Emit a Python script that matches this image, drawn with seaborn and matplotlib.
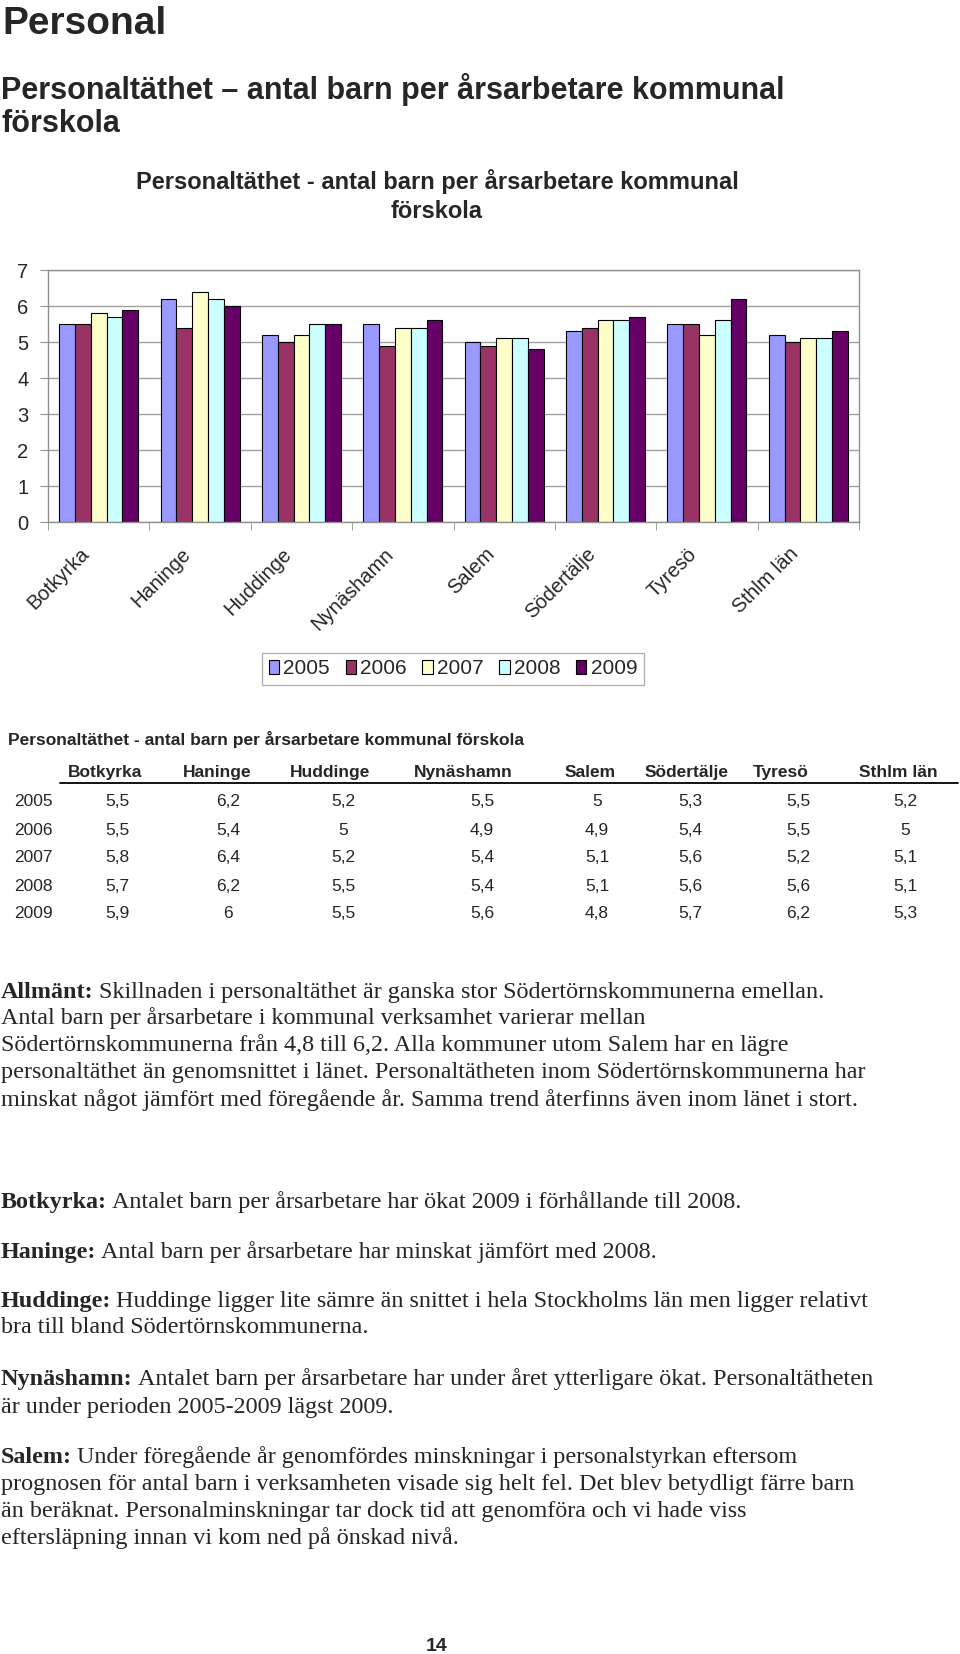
import matplotlib
matplotlib.use('Agg')
import matplotlib.pyplot as plt
from matplotlib.patches import Patch
from matplotlib.transforms import ScaledTranslation
import numpy as np
import pandas as pd
import seaborn as sns

# data
kommuner = ['Botkyrka', 'Haninge', 'Huddinge', 'Nynäshamn', 'Salem',
            'Södertälje', 'Tyresö', 'Sthlm län']
ar = ['2005', '2006', '2007', '2008', '2009']
v2005 = [5.5, 6.2, 5.2, 5.5, 5.0, 5.3, 5.5, 5.2]
v2006 = [5.5, 5.4, 5.0, 4.9, 4.9, 5.4, 5.5, 5.0]
v2007 = [5.8, 6.4, 5.2, 5.4, 5.1, 5.6, 5.2, 5.1]
v2008 = [5.7, 6.2, 5.5, 5.4, 5.1, 5.6, 5.6, 5.1]
v2009 = [5.9, 6.0, 5.5, 5.6, 4.8, 5.7, 6.2, 5.3]
farger = ['#9999FF', '#993366', '#FFFFCC', '#CCFFFF', '#660066']

rubrik = 'Personal'
underrubrik = ['Personaltäthet – antal barn per årsarbetare kommunal', 'förskola']
diagramtitel = ['Personaltäthet - antal barn per årsarbetare kommunal', 'förskola']
tabelltitel = 'Personaltäthet - antal barn per årsarbetare kommunal förskola'

# body text: (bold start, rest of first line), then following lines
stycken = [
    ('Allmänt:', 'Skillnaden i personaltäthet är ganska stor Södertörnskommunerna emellan.',
     ['Antal barn per årsarbetare i kommunal verksamhet varierar mellan',
      'Södertörnskommunerna från 4,8 till 6,2. Alla kommuner utom Salem har en lägre',
      'personaltäthet än genomsnittet i länet. Personaltätheten inom Södertörnskommunerna har',
      'minskat något jämfört med föregående år. Samma trend återfinns även inom länet i stort.']),
    ('Botkyrka:', 'Antalet barn per årsarbetare har ökat 2009 i förhållande till 2008.', []),
    ('Haninge:', 'Antal barn per årsarbetare har minskat jämfört med 2008.', []),
    ('Huddinge:', 'Huddinge ligger lite sämre än snittet i hela Stockholms län men ligger relativt',
     ['bra till bland Södertörnskommunerna.']),
    ('Nynäshamn:', 'Antalet barn per årsarbetare har under året ytterligare ökat. Personaltätheten',
     ['är under perioden 2005-2009 lägst 2009.']),
    ('Salem:', 'Under föregående år genomfördes minskningar i personalstyrkan eftersom',
     ['prognosen för antal barn i verksamheten visade sig helt fel. Det blev betydligt färre barn',
      'än beräknat. Personalminskningar tar dock tid att genomföra och vi hade viss',
      'eftersläpning innan vi kom ned på önskad nivå.']),
]
sidnummer = '14'

varden = [v2005, v2006, v2007, v2008, v2009]
df = pd.DataFrame({
    'kommun': kommuner * len(ar),
    'ar': np.repeat(ar, len(kommuner)),
    'varde': np.concatenate(varden),
})

sns.set_style('white')
plt.rcParams['font.family'] = ['Liberation Sans', 'DejaVu Sans']

W, H = 960, 1654
fig = plt.figure(figsize=(W / 100, H / 100), dpi=100)
fy = lambda y: 1 - y / H
fx = lambda x: x / W

# headings
fig.text(fx(2), fy(34), rubrik, fontsize=28, weight='bold', va='baseline')
fig.text(fx(1), fy(89), underrubrik[0], fontsize=22, weight='bold', va='center')
fig.text(fx(1), fy(124), underrubrik[1], fontsize=22, weight='bold', va='center')
fig.text(fx(437), fy(182), diagramtitel[0], fontsize=17, weight='bold', va='center', ha='center')
fig.text(fx(437), fy(212), diagramtitel[1], fontsize=17, weight='bold', va='center', ha='center')

# chart
ax = fig.add_axes([fx(48), fy(522), (859 - 48) / W, (522 - 270) / H])
sns.barplot(data=df, x='kommun', y='varde', hue='ar', palette=farger,
            width=0.78, saturation=1, edgecolor='black', linewidth=0.8,
            legend=False, ax=ax)
ax.set_xlim(-0.5, len(kommuner) - 0.5)
ax.set_ylim(0, 7)
ax.set_yticks(range(0, 8))
ax.set_xlabel('')
ax.set_ylabel('')
ax.yaxis.grid(True, color='#A0A0A0', lw=1)
ax.set_axisbelow(True)
for s in ax.spines.values():
    s.set_color('#909090')
    s.set_linewidth(1)
ax.set_xticks(np.arange(-0.5, len(kommuner), 1), minor=True)
ax.tick_params(axis='x', which='major', length=0, pad=21, labelsize=14.5)
ax.tick_params(axis='x', which='minor', length=6, color='#909090', bottom=True)
ax.tick_params(axis='y', length=6, color='#909090', pad=8, labelsize=14.5, left=True)
off = ScaledTranslation(-0.127, 0, fig.dpi_scale_trans)
for lab in ax.get_xticklabels():
    lab.set_rotation(45)
    lab.set_ha('right')
    lab.set_va('center')
    lab.set_rotation_mode('anchor')
    lab.set_transform(lab.get_transform() + off)

handles = [Patch(facecolor=c, edgecolor='black', lw=0.8) for c in farger]
leg = fig.legend(handles, ar, loc='center', bbox_to_anchor=(fx(453), fy(669)),
                 ncol=5, fontsize=15, frameon=True, fancybox=False,
                 edgecolor='#A0A0A0', handlelength=0.5, handleheight=0.65,
                 handletextpad=0.2, columnspacing=0.75, borderpad=0.3)
leg.get_frame().set_linewidth(1)

# table
fig.text(fx(8), fy(739), tabelltitel, fontsize=12.5, weight='bold', va='center')
kol_rubrik = [105, 217, 330, 463, 590, 687, 781, 898]
kol_varde = [117, 228, 343, 482, 597, 690, 798, 905]
rader = [802, 830, 858, 886, 914]
for k, xk in zip(kommuner, kol_rubrik):
    fig.text(fx(xk), fy(772), k, fontsize=12.5, weight='bold', ha='center', va='center')
fig.add_artist(plt.Line2D([fx(60), fx(958)], [fy(783), fy(783)], color='black', lw=1.3))
for a, v, yr in zip(ar, varden, rader):
    fig.text(fx(33), fy(yr), a, fontsize=12.5, ha='center', va='center')
    for val, xk in zip(v, kol_varde):
        fig.text(fx(xk), fy(yr), f'{val:g}'.replace('.', ','), fontsize=12.5,
                 ha='center', va='center')

# body text
baslinjer = [[998, 1024, 1051, 1078, 1106], [1208], [1258], [1307, 1333],
             [1385, 1413], [1463, 1490, 1517, 1544]]
serif = ['Liberation Serif', 'DejaVu Serif']
fs = 17.4
mellanrum = 5
renderer = fig.canvas.get_renderer()
for (fet, rest, foljande), ys in zip(stycken, baslinjer):
    t = fig.text(fx(1), fy(ys[0]), fet, family=serif, weight='bold', fontsize=fs, va='baseline')
    bb = t.get_window_extent(renderer)
    fig.text((bb.x1 + mellanrum) / W, fy(ys[0]), rest, family=serif, fontsize=fs, va='baseline')
    for rad, y in zip(foljande, ys[1:]):
        fig.text(fx(1), fy(y), rad, family=serif, fontsize=fs, va='baseline')

fig.text(fx(437), fy(1651), sidnummer, fontsize=14, weight='bold', ha='center', va='baseline')

fig.savefig('out.png', dpi=100)
